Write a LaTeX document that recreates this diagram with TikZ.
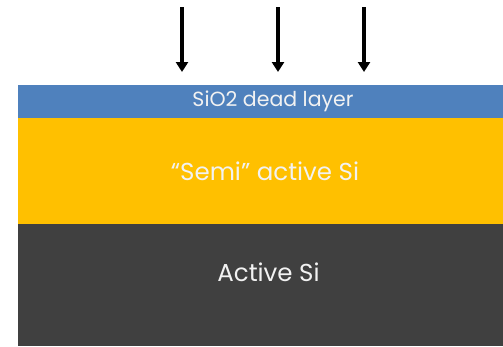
\documentclass[tikz,border=0pt]{standalone}
\usepackage{fontspec}
\setmainfont{Poppins}
\usetikzlibrary{arrows.meta}
\definecolor{oxideblue}{HTML}{4F81BD}
\definecolor{semiyellow}{HTML}{FFC000}
\definecolor{activegray}{HTML}{404040}
\definecolor{labelwhite}{HTML}{F2F2F2}
\tikzset{
  layerlabel/.style={text=labelwhite, font=\fontsize{#1}{#1}\selectfont, inner sep=0pt},
  beam/.style={line width=3.2pt, -{Triangle[length=10pt,width=12pt]}}
}
\begin{document}
\begin{tikzpicture}[x=1pt,y=-1pt]
  \useasboundingbox (0,0) rectangle (503,346);
  % stacked layers
  \fill[oxideblue] (18,85) rectangle (503,117.5);
  \fill[semiyellow] (18,117.5) rectangle (503,224);
  \fill[activegray] (18,224) rectangle (503,346);
  % labels
  \node[layerlabel=20.5] (oxide) at (273,101.5) {SiO2 dead layer};
  \node[layerlabel=24.5] (semi) at (265,171) {“Semi” active Si};
  \node[layerlabel=24.5] (active) at (268.5,272) {Active Si};
  % incident beam
  \coordinate (a1s) at (182,7);  \coordinate (a1e) at (182,72);
  \coordinate (a2s) at (278,7);  \coordinate (a2e) at (278,72);
  \coordinate (a3s) at (364,7);  \coordinate (a3e) at (364,72);
  \draw[beam] (a1s) -- (a1e);
  \draw[beam] (a2s) -- (a2e);
  \draw[beam] (a3s) -- (a3e);
\end{tikzpicture}
\end{document}
